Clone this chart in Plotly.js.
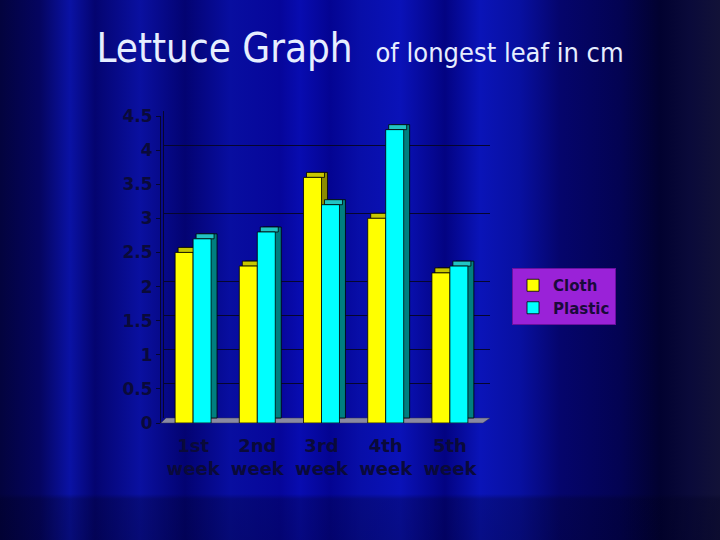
<!DOCTYPE html>
<html>
<head>
<meta charset="utf-8">
<script src="https://cdn.plot.ly/plotly-3.0.1.min.js"></script>
<style>
html,body{margin:0;padding:0;}
body{
  width:720px;height:540px;overflow:hidden;
  background:
    linear-gradient(180deg, rgba(0,0,0,0) 0px, rgba(0,0,0,0) 494px, rgba(0,0,30,0.28) 499px, rgba(0,0,30,0.32) 540px),
    linear-gradient(90deg,
      #03033e 0px, #050560 40px, #0a12a4 70px, #040470 95px, #0a10a0 140px,
      #030372 185px, #080ea0 230px, #06069a 280px, #080cb0 300px, #040492 330px,
      #080ea8 360px, #0a12b8 400px, #030382 445px, #0a14b8 480px, #0810a0 520px,
      #05056c 560px, #030352 620px, #020230 660px, #0a0a3a 690px, #121238 720px);
}
#chart{width:720px;height:540px;}
</style>
</head>
<body>
<div id="chart"></div>
<script>
// ---- data ----
const categories = ['1st<br>week', '2nd<br>week', '3rd<br>week', '4th<br>week', '5th<br>week'];
const cloth = [2.5, 2.3, 3.6, 3.0, 2.2];
const plastic = [2.7, 2.8, 3.2, 4.3, 2.3];
const seriesNames = ['Cloth', 'Plastic'];
const gridValues = [0.5, 1, 1.5, 2, 3, 4];

// ---- styling ----
const W = 0.28;      // bar width (category units)
const DX = 0.093;    // 3D depth horizontal (category units)
const DY = 0.073;    // 3D depth vertical (value units)
const edge = {color: '#000000', width: 0.8};

function barSet(values, name, offset, front, top, side) {
  const sideTrace = {
    type: 'bar', x: categories, y: values, base: values.map(() => DY),
    offset: offset + DX, width: W, xaxis: 'x2', yaxis: 'y2',
    marker: {color: side, line: edge}, showlegend: false, hoverinfo: 'skip'
  };
  const topTrace = {
    type: 'bar', x: categories, y: values.map(() => DY), base: values,
    offset: offset + DX / 2, width: W, xaxis: 'x2', yaxis: 'y2',
    marker: {color: top, line: edge}, showlegend: false, hoverinfo: 'skip'
  };
  const frontTrace = {
    type: 'bar', x: categories, y: values, name: name,
    offset: offset, width: W, xaxis: 'x2', yaxis: 'y2',
    marker: {color: front, line: edge}
  };
  return [sideTrace, topTrace, frontTrace];
}

const dummy = {
  type: 'scatter', x: categories, y: cloth, xaxis: 'x', yaxis: 'y',
  mode: 'markers', marker: {opacity: 0}, showlegend: false, hoverinfo: 'skip'
};

const data = [dummy]
  .concat(barSet(cloth, seriesNames[0], -W, '#ffff00', '#c8c800', '#8c8c00'))
  .concat(barSet(plastic, seriesNames[1], 0, '#00ffff', '#22c4c4', '#007f7f'));

const px = v => v / 720, py = v => (540 - v) / 540;
const tickFont = {family: 'DejaVu Sans', size: 17, color: '#0a0a3a', weight: 'bold'};

const layout = {
  width: 720, height: 540,
  margin: {l: 0, r: 0, t: 0, b: 0},
  paper_bgcolor: 'rgba(0,0,0,0)', plot_bgcolor: 'rgba(0,0,0,0)',
  barmode: 'overlay',
  showlegend: true,
  title: {
    text: 'Lettuce Graph\u00a0\u00a0<span style="font-size:27px">of longest leaf in cm</span>',
    font: {family: 'DejaVu Sans Condensed', size: 40, color: '#e6eeff'},
    x: 0.5, xanchor: 'center', xref: 'paper',
    y: py(62), yanchor: 'bottom', yref: 'container', pad: {t: 0, b: 0}
  },
  // back wall (grid) subplot
  xaxis: {
    domain: [px(164), px(490)], type: 'category', range: [-0.5, 4.5],
    showticklabels: false, showgrid: false, zeroline: false, ticks: '', fixedrange: true
  },
  yaxis: {
    domain: [py(418), py(111)], range: [0, 4.5], tickvals: gridValues,
    showticklabels: false, showgrid: true, gridcolor: '#06062e', gridwidth: 1,
    zeroline: false, showline: true, linecolor: '#06062e', linewidth: 1, ticks: ''
  },
  // front bars subplot
  xaxis2: {
    domain: [px(161), px(482)], type: 'category', range: [-0.5, 4.5], anchor: 'y2',
    showgrid: false, zeroline: false, ticks: '', showline: false,
    ticklabelstandoff: 10,
    tickfont: {family: 'DejaVu Sans', size: 18, color: '#0a0a3a', weight: 'bold'}
  },
  yaxis2: {
    domain: [py(423), py(116)], range: [0, 4.5], dtick: 0.5, anchor: 'x2',
    showgrid: false, zeroline: false, showline: true, linecolor: '#06062e', linewidth: 1,
    ticks: 'outside', ticklen: 4, tickcolor: '#06062e', tickfont: tickFont
  },
  shapes: [{
    type: 'path', xref: 'paper', yref: 'paper', layer: 'below',
    path: 'M ' + px(161) + ' ' + py(423) + ' L ' + px(483) + ' ' + py(423) +
          ' L ' + px(490) + ' ' + py(418) + ' L ' + px(166) + ' ' + py(418) + ' Z',
    fillcolor: '#8a8aa2', line: {color: '#303050', width: 0.5}
  }],
  legend: {
    x: px(512), y: py(268), xanchor: 'left', yanchor: 'top',
    bgcolor: '#9a22d8', bordercolor: '#6a10a0', borderwidth: 1,
    font: {family: 'DejaVu Sans', size: 15, color: '#1a0a3a', weight: 'bold'},
    itemwidth: 30, tracegroupgap: 0
  }
};

Plotly.newPlot('chart', data, layout, {displayModeBar: false, staticPlot: true});
</script>
</body>
</html>
